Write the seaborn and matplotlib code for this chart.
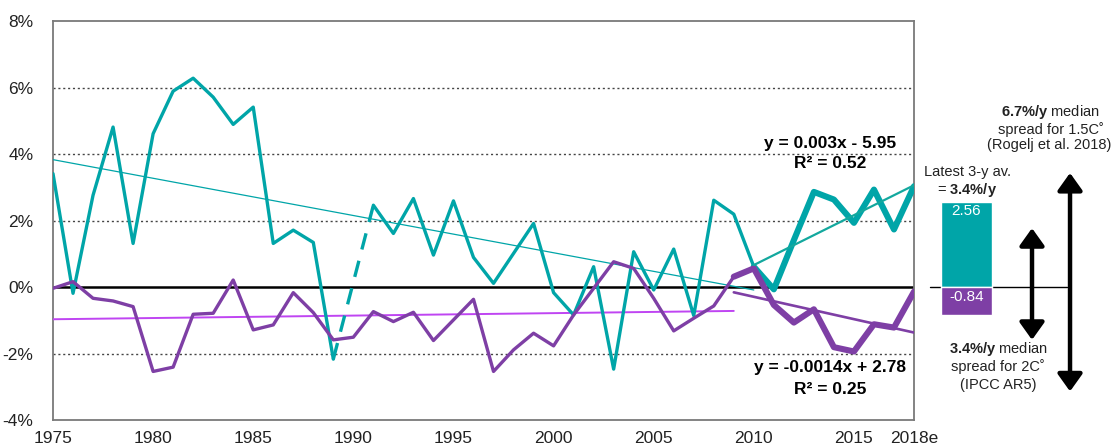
import numpy as np
import pandas as pd
import matplotlib
matplotlib.use("Agg")
import matplotlib.pyplot as plt
import seaborn as sns

# ---------------- data ----------------
years = list(range(1975, 2019))
teal_vals = [3.41, -0.19, 2.76, 4.81, 1.31, 4.61, 5.89, 6.28, 5.71, 4.89,
             5.41, 1.31, 1.71, 1.34, -2.17, np.nan, 2.46, 1.61, 2.66, 0.96,
             2.59, 0.89, 0.11, 1.01, 1.91, -0.17, -0.84, 0.61, -2.47, 1.06,
             -0.09, 1.14, -0.86, 2.61, 2.19, 0.61, -0.07, 1.41, 2.86, 2.63,
             1.93, 2.93, 1.73, 3.03]
purple_vals = [-0.04, 0.16, -0.34, -0.42, -0.59, -2.54, -2.41, -0.82, -0.79, 0.21,
               -1.29, -1.14, -0.17, -0.77, -1.59, -1.51, -0.74, -1.04, -0.76, -1.61,
               -0.99, -0.37, -2.54, -1.89, -1.39, -1.77, -0.84, -0.04, 0.76, 0.56,
               -0.34, -1.32, -0.94, -0.57, 0.31, 0.56, -0.54, -1.07, -0.67, -1.81,
               -1.94, -1.12, -1.22, -0.14]
gap_years = [1989, 1991]
gap_vals = [-2.17, 2.46]
teal_thick_start = 2010
purple_thick_start = 2009

# trend lines (endpoints)
teal_trend_long_x = [1975, 2010]
teal_trend_long_y = [3.83, -0.09]
teal_trend_recent_x = [2010, 2018]
teal_trend_recent_y = [0.66, 3.06]
purple_trend_long_x = [1975, 2009]
purple_trend_long_y = [-0.97, -0.72]
purple_trend_recent_x = [2009, 2018]
purple_trend_recent_y = [-0.16, -1.37]

bar_values = [2.56, -0.84]
bar_labels = ["2.56", "-0.84"]
arrow_2c = [-1.59, 1.77]      # 3.4%/y spread
arrow_15c = [-3.14, 3.43]     # 6.7%/y spread

x_ticks = [1975, 1980, 1985, 1990, 1995, 2000, 2005, 2010, 2015, 2018]
x_ticklabels = ["1975", "1980", "1985", "1990", "1995", "2000", "2005",
                "2010", "2015", "2018e"]
y_ticks = [-4, -2, 0, 2, 4, 6, 8]
y_ticklabels = ["-4%", "-2%", "0%", "2%", "4%", "6%", "8%"]

TEAL = "#00A5A8"
PURPLE = "#7E3FA5"
MAGENTA = "#BF45F2"

# ---------------- style ----------------
sns.set_theme(style="white")
plt.rcParams["font.family"] = ["Liberation Sans", "DejaVu Sans"]
plt.rcParams["mathtext.fontset"] = "custom"
plt.rcParams["mathtext.rm"] = "Liberation Sans"
plt.rcParams["mathtext.bf"] = "Liberation Sans:bold"

W, H = 1112, 448
fig = plt.figure(figsize=(W / 100, H / 100), dpi=100)
left, right, top, bottom = 53, 914, 21, 420
ax = fig.add_axes([left / W, 1 - bottom / H, (right - left) / W, (bottom - top) / H])

df = pd.DataFrame({"year": years, "teal": teal_vals, "purple": purple_vals})
# split teal series at the missing year so the gap stays open
gap_year = int(df.loc[df["teal"].isna(), "year"].iloc[0])
df_t1 = df[df["year"] < gap_year]
df_t2 = df[df["year"] > gap_year]

# gridlines
for yv in [-2, 2, 4, 6]:
    ax.axhline(yv, color="#444444", lw=1.0, ls=(0, (1.5, 2)), zorder=1)
ax.axhline(0, color="black", lw=1.8, zorder=2)

# thin long trend lines
ax.plot(teal_trend_long_x, teal_trend_long_y, color=TEAL, lw=0.9, zorder=3)
ax.plot(purple_trend_long_x, purple_trend_long_y, color=MAGENTA, lw=1.4, zorder=3)

# main series
sns.lineplot(data=df_t1, x="year", y="teal", color=TEAL, lw=2.4, ax=ax, zorder=4)
sns.lineplot(data=df_t2, x="year", y="teal", color=TEAL, lw=2.4, ax=ax, zorder=4)
sns.lineplot(data=df, x="year", y="purple", color=PURPLE, lw=2.4, ax=ax, zorder=4)
ax.plot(gap_years, gap_vals, color=TEAL, lw=2.4, dashes=(5, 3.5), zorder=4)

# thick recent segments
dft = df[df["year"] >= teal_thick_start]
dfp = df[df["year"] >= purple_thick_start]
sns.lineplot(data=dft, x="year", y="teal", color=TEAL, lw=4.4, ax=ax, zorder=5)
sns.lineplot(data=dfp, x="year", y="purple", color=PURPLE, lw=4.4, ax=ax, zorder=5)

# recent trend lines
ax.plot(teal_trend_recent_x, teal_trend_recent_y, color="#13A89E", lw=1.6, zorder=6)
ax.plot(purple_trend_recent_x, purple_trend_recent_y, color=PURPLE, lw=1.9, zorder=6)

# equations
eq_kw = dict(ha="center", va="center", fontsize=12.5, fontweight="bold", color="black", zorder=7)
ax.text(2013.8, 4.32, "y = 0.003x - 5.95", **eq_kw)
ax.text(2013.8, 3.72, "R² = 0.52", **eq_kw)
ax.text(2013.8, -2.43, "y = -0.0014x + 2.78", **eq_kw)
ax.text(2013.8, -3.09, "R² = 0.25", **eq_kw)

ax.set_xlim(1975, 2018)
ax.set_ylim(-4, 8)
ax.set_xticks(x_ticks)
ax.set_xticklabels(x_ticklabels)
ax.set_yticks(y_ticks)
ax.set_yticklabels(y_ticklabels)
ax.set_xlabel("")
ax.set_ylabel("")
ax.tick_params(axis="x", direction="in", length=4, width=1, color="#555555",
               labelsize=12.5, labelcolor="#222222", pad=8)
ax.tick_params(axis="y", length=0, labelsize=12.5, labelcolor="#222222", pad=14)
for s in ax.spines.values():
    s.set_color("#7a7a7a")
    s.set_linewidth(1.3)

# ---------------- right panel ----------------
ax2 = fig.add_axes([right / W, 1 - bottom / H, (W - right) / W, (bottom - top) / H])
ax2.set_xlim(0, 1)
ax2.set_ylim(-4, 8)
ax2.axis("off")

ax2.plot([0.081, 0.773], [0, 0], color="black", lw=1.0, zorder=1)
bar_df = pd.DataFrame({"x": [0.265, 0.265], "v": bar_values})
ax2.bar(bar_df["x"], bar_df["v"], width=0.258, color=[TEAL, PURPLE], zorder=2)
ax2.text(0.265, 2.28, bar_labels[0], ha="center", va="center", color="white", fontsize=11, zorder=3)
ax2.text(0.265, -0.30, bar_labels[1], ha="center", va="center", color="white", fontsize=11, zorder=3)

for xa, (y0, y1) in [(0.596, arrow_2c), (0.788, arrow_15c)]:
    ax2.annotate("", xy=(xa, y1), xytext=(xa, y0),
                 arrowprops=dict(arrowstyle="<|-|>,head_length=0.7,head_width=0.5",
                                 color="black", lw=3.2, shrinkA=0, shrinkB=0,
                                 mutation_scale=15))

tk = dict(ha="center", va="center", fontsize=10.5, color="#222222")
ax2.text(0.69, 5.25, r"$\mathbf{6.7\%/y}$ median", **tk)
ax2.text(0.69, 4.74, "spread for 1.5C˚", **tk)
ax2.text(0.685, 4.26, "(Rogelj et al. 2018)", **tk)
ax2.text(0.268, 3.45, "Latest 3-y av.", **tk)
ax2.text(0.268, 2.91, r"= $\mathbf{3.4\%/y}$", **tk)
ax2.text(0.424, -1.86, r"$\mathbf{3.4\%/y}$ median", **tk)
ax2.text(0.424, -2.40, "spread for 2C˚", **tk)
ax2.text(0.424, -2.94, "(IPCC AR5)", **tk)

fig.savefig("out.png", dpi=100)
